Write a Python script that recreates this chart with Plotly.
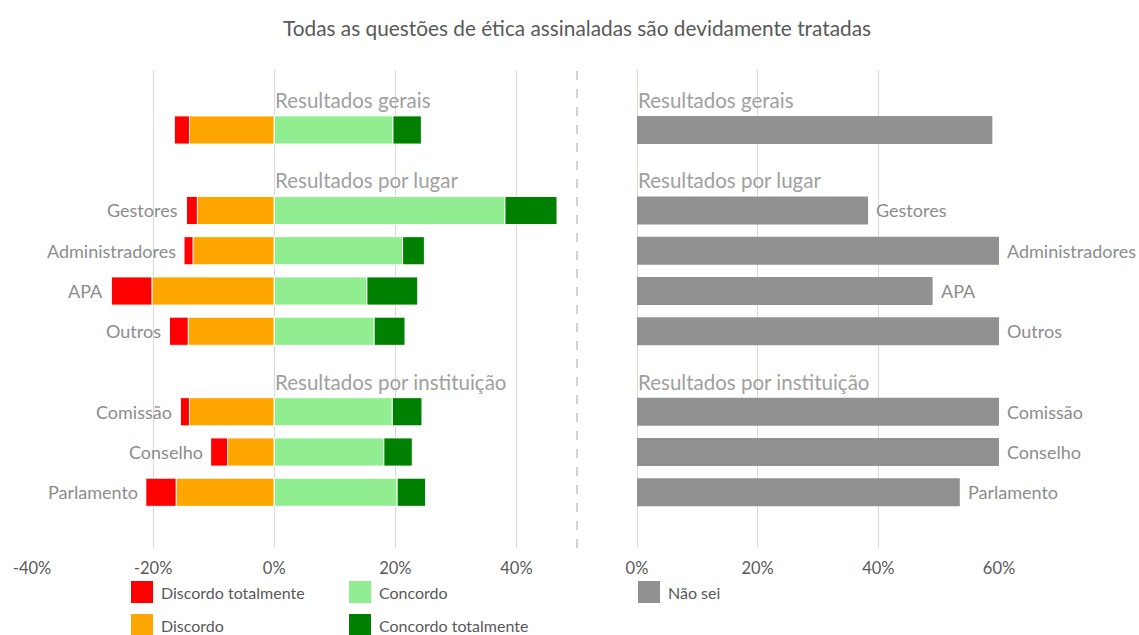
import plotly.graph_objects as go

W, H = 1139, 635

# ---------------- data ----------------
rows = ["Geral", "Gestores", "Administradores", "APA", "Outros", "Comissão", "Conselho", "Parlamento"]
row_labels = ["", "Gestores", "Administradores", "APA", "Outros", "Comissão", "Conselho", "Parlamento"]
discordo_totalmente = [0.025, 0.018, 0.015, 0.067, 0.031, 0.015, 0.028, 0.050]
discordo = [0.140, 0.127, 0.134, 0.202, 0.142, 0.140, 0.077, 0.162]
concordo = [0.196, 0.381, 0.212, 0.153, 0.165, 0.195, 0.181, 0.203]
concordo_totalmente = [0.047, 0.086, 0.036, 0.084, 0.051, 0.049, 0.047, 0.047]
nao_sei = [0.589, 0.383, 0.603, 0.490, 0.611, 0.601, 0.667, 0.535]

sections = ["Resultados gerais", "Resultados por lugar", "Resultados por instituição"]
section_first_row = ["Geral", "Gestores", "Comissão"]

category_order = ["_s1", "Geral", "_s2", "Gestores", "Administradores", "APA", "Outros",
                  "_s3", "Comissão", "Conselho", "Parlamento", "_s4"]

left_ticks = [-0.4, -0.2, 0, 0.2, 0.4]
left_tick_labels = ["-40%", "-20%", "0%", "20%", "40%"]
right_ticks = [0, 0.2, 0.4, 0.6]
right_tick_labels = ["0%", "20%", "40%", "60%"]

series_names = ["Discordo totalmente", "Discordo", "Concordo", "Concordo totalmente", "Não sei"]
colors = {"Discordo totalmente": "#FF0000", "Discordo": "#FFA500", "Concordo": "#90EE90",
          "Concordo totalmente": "#008000", "Não sei": "#919191"}

title = "Todas as questões de ética assinaladas são devidamente tratadas"

FONT = "Lato"
TXT = "#595959"
LBL = "#8c8c8c"
HDR = "#a0a0a0"

fig = go.Figure()

line = dict(color="white", width=1)
# negative side (stacks outward from zero)
fig.add_trace(go.Bar(y=rows, x=[-v for v in discordo], orientation="h", name="Discordo",
                     marker=dict(color=colors["Discordo"], line=line), width=0.7,
                     xaxis="x", yaxis="y", showlegend=False, hoverinfo="skip"))
fig.add_trace(go.Bar(y=rows, x=[-v for v in discordo_totalmente], orientation="h", name="Discordo totalmente",
                     marker=dict(color=colors["Discordo totalmente"], line=line), width=0.7,
                     xaxis="x", yaxis="y", showlegend=False, hoverinfo="skip"))
fig.add_trace(go.Bar(y=rows, x=concordo, orientation="h", name="Concordo",
                     marker=dict(color=colors["Concordo"], line=line), width=0.7,
                     xaxis="x", yaxis="y", showlegend=False, hoverinfo="skip"))
fig.add_trace(go.Bar(y=rows, x=concordo_totalmente, orientation="h", name="Concordo totalmente",
                     marker=dict(color=colors["Concordo totalmente"], line=line), width=0.7,
                     xaxis="x", yaxis="y", showlegend=False, hoverinfo="skip"))
fig.add_trace(go.Bar(y=rows, x=nao_sei, orientation="h", name="Não sei",
                     marker=dict(color=colors["Não sei"], line=dict(width=0)), width=0.7,
                     xaxis="x2", yaxis="y2", showlegend=False, hoverinfo="skip"))

RIGHT_MAX = 0.6
yr = [11.385, -0.49]
ann = []
# left labels
for r, lab, dt, d in zip(rows, row_labels, discordo_totalmente, discordo):
    if lab:
        ann.append(dict(x=-(dt + d), y=r, xref="x", yref="y", text=lab, showarrow=False,
                        xanchor="right", xshift=-6, font=dict(family=FONT, size=18, color=LBL)))
# right labels
for r, lab, v in zip(rows, row_labels, nao_sei):
    if lab:
        ann.append(dict(x=min(v, RIGHT_MAX), y=r, xref="x2", yref="y2", text=lab, showarrow=False,
                        xanchor="left", xshift=6, font=dict(family=FONT, size=18, color=LBL)))
# section headers
for s, r in zip(sections, section_first_row):
    for xr, yrf in (("x", "y"), ("x2", "y2")):
        ann.append(dict(x=0, y=r, xref=xr, yref=yrf, text=s, showarrow=False, xanchor="left",
                        yshift=30, xshift=-1, font=dict(family=FONT, size=20.5, color=HDR)))
# title
ann.append(dict(x=577 / W, y=1 - 27 / H, xref="paper", yref="paper", text=title, showarrow=False,
                xanchor="center", yanchor="middle", font=dict(family=FONT, size=20.8, color=TXT)))

# custom legend
shapes = []
legend_pos = {"Discordo totalmente": (131, 592), "Concordo": (349, 592), "Não sei": (638, 592),
              "Discordo": (131, 625), "Concordo totalmente": (349, 625)}
for nm in series_names:
    px, py = legend_pos[nm]
    shapes.append(dict(type="rect", xref="paper", yref="paper",
                       x0=px / W, x1=(px + 22) / W, y0=1 - (py + 11) / H, y1=1 - (py - 11) / H,
                       fillcolor=colors[nm], line=dict(width=0)))
    ann.append(dict(x=(px + 28) / W, y=1 - py / H, xref="paper", yref="paper", text=nm, showarrow=False,
                    xanchor="left", yanchor="middle", font=dict(family=FONT, size=16, color=TXT)))

# dashed divider
shapes.append(dict(type="line", xref="paper", yref="paper", x0=577 / W, x1=577 / W,
                   y0=1 - 548 / H, y1=1 - 70 / H, line=dict(color="#a6a6a6", width=1, dash="dash")))

axis_common = dict(showgrid=True, gridcolor="#d9d9d9", gridwidth=1, zeroline=True,
                   zerolinecolor="#d9d9d9", zerolinewidth=1, showline=False, ticks="",
                   automargin=False, ticklabelstandoff=8,
                   tickfont=dict(family=FONT, size=16.5, color=TXT))
yaxis_common = dict(domain=[1 - 548 / H, 1 - 70 / H], type="category", categoryorder="array",
                    categoryarray=category_order, range=yr, showticklabels=False, showgrid=False,
                    zeroline=False, showline=False, automargin=False)

fig.update_layout(
    width=W, height=H, margin=dict(l=0, r=0, t=0, b=0, autoexpand=False),
    paper_bgcolor="white", plot_bgcolor="white",
    barmode="relative", bargap=0.3,
    font=dict(family=FONT, color=TXT),
    xaxis=dict(domain=[32 / W, 577 / W], range=[-0.4, 0.5], tickvals=left_ticks,
               ticktext=left_tick_labels, anchor="y", **axis_common),
    yaxis=dict(anchor="x", **yaxis_common),
    xaxis2=dict(domain=[637 / W, 999 / W], range=[0, RIGHT_MAX], tickvals=right_ticks,
                ticktext=right_tick_labels, anchor="y2", **axis_common),
    yaxis2=dict(anchor="x2", **yaxis_common),
    annotations=ann, shapes=shapes,
)

fig.write_html("out.html", config={"displayModeBar": False},
               post_script="document.body.style.margin='0';")
